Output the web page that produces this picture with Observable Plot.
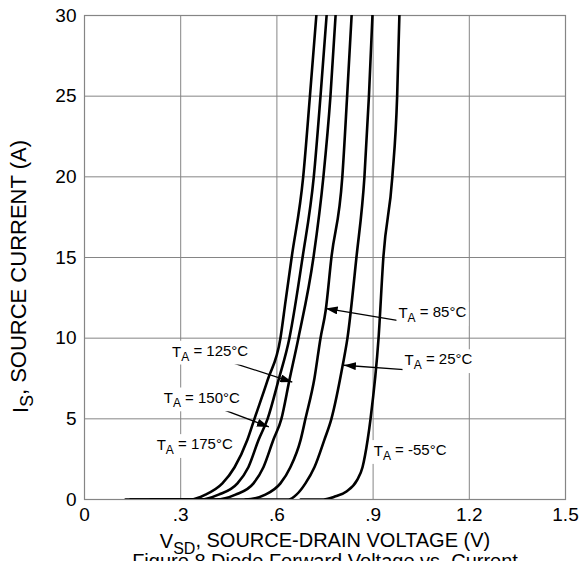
<!DOCTYPE html>
<html><head><meta charset="utf-8">
<script src="https://cdn.jsdelivr.net/npm/d3@7"></script>
<script src="https://cdn.jsdelivr.net/npm/@observablehq/plot@0.6"></script>
<style>
html,body{margin:0;padding:0;background:#fff;}
#chart svg{display:block;}
</style></head><body><div id="chart"></div>
<script>
// ---- tick definitions ----
const xTicks = [0, 0.3, 0.6, 0.9, 1.2, 1.5];
const xTickLabels = ["0", ".3", ".6", ".9", "1.2", "1.5"];
const yTicks = [0, 5, 10, 15, 20, 25, 30];
const yTickLabels = ["0", "5", "10", "15", "20", "25", "30"];

// ---- series (V_SD in volts, I_S in amps) ----
const temps = ["175°C", "150°C", "125°C", "85°C", "25°C", "-55°C"];
const vsd175 = [0.128, 0.331, 0.377, 0.430, 0.468, 0.508, 0.530, 0.571, 0.611, 0.627, 0.646, 0.682, 0.703, 0.723];
const is175  = [0, 0, 0.3, 1, 2, 3.7, 5, 7.4, 10, 12.3, 15, 20, 25, 30];
const vsd150 = [0.143, 0.362, 0.418, 0.477, 0.511, 0.543, 0.571, 0.605, 0.639, 0.680, 0.715, 0.736, 0.755];
const is150  = [0, 0, 0.3, 1, 2, 3.7, 5, 7.4, 10, 15, 20, 25, 30];
const vsd125 = [0.206, 0.409, 0.471, 0.527, 0.558, 0.589, 0.614, 0.639, 0.667, 0.714, 0.745, 0.767, 0.783];
const is125  = [0, 0, 0.3, 1, 2, 3.7, 5, 7.4, 10, 15, 20, 25, 30];
const vsd85  = [0.362, 0.502, 0.564, 0.611, 0.642, 0.674, 0.689, 0.717, 0.736, 0.752, 0.770, 0.804, 0.819, 0.833];
const is85   = [0, 0, 0.3, 1, 2, 3.7, 5, 7.5, 10, 11.7, 15, 20, 25, 30];
const vsd25  = [0.502, 0.636, 0.661, 0.689, 0.717, 0.748, 0.770, 0.805, 0.820, 0.848, 0.873, 0.887, 0.898];
const is25   = [0, 0, 0.3, 1, 2, 3.7, 5, 8.3, 10, 15, 20, 25, 30];
const vsdM55 = [0.674, 0.745, 0.783, 0.817, 0.850, 0.867, 0.883, 0.892, 0.917, 0.932, 0.960, 0.975, 0.982];
const isM55  = [0, 0, 0.2, 0.5, 1.2, 2, 3.7, 5, 10, 15, 20, 25, 30];

// ---- annotations ----
const labelText = ["T_A = 85°C", "T_A = 25°C", "T_A = -55°C", "T_A = 125°C", "T_A = 150°C", "T_A = 175°C"];
const labelV = [0.979, 0.998, 0.902, 0.273, 0.247, 0.225];
const labelI = [11.54, 8.62, 2.99, 9.15, 6.25, 3.36];
const arrowTailV = [0.975, 0.996, 0.455, 0.424];
const arrowTailI = [11.1, 8.05, 8.52, 5.63];
const arrowTipV  = [0.752, 0.809, 0.648, 0.575];
const arrowTipI  = [11.84, 8.32, 7.28, 4.5];

const xLabel = "V_SD, SOURCE-DRAIN VOLTAGE (V)";
const yLabel = "I_S, SOURCE CURRENT (A)";
const caption = "Figure 8 Diode Forward Voltage vs. Current";

// ---- build tables ----
const seriesV = [vsd175, vsd150, vsd125, vsd85, vsd25, vsdM55];
const seriesI = [is175, is150, is125, is85, is25, isM55];
const rows = temps.flatMap((t, s) => seriesV[s].map((v, k) => ({temp: t, v, i: seriesI[s][k]})));
const arrows = arrowTailV.map((v, k) => ({x1: v, y1: arrowTailI[k], x2: arrowTipV[k], y2: arrowTipI[k]}));
const labels = labelText.map((t, k) => ({t, v: labelV[k], i: labelI[k]}));

const font = '"Liberation Sans", Arial, Helvetica, sans-serif';
const gridColor = "#858585";

const chart = Plot.plot({
  width: 580, height: 561,
  marginLeft: 84, marginRight: 15, marginTop: 15, marginBottom: 62,
  style: {fontFamily: font, background: "white", color: "black"},
  x: {domain: [0, 1.5]},
  y: {domain: [0, 30]},
  marks: [
    Plot.gridX(xTicks, {stroke: gridColor, strokeOpacity: 1, strokeWidth: 1}),
    Plot.gridY(yTicks, {stroke: gridColor, strokeOpacity: 1, strokeWidth: 1}),
    Plot.frame({stroke: gridColor, strokeWidth: 1.2}),
    Plot.axisX(xTicks, {tickSize: 0, tickPadding: 8, fontSize: 19, label: null,
      tickFormat: d => xTickLabels[xTicks.indexOf(d)]}),
    Plot.axisY(yTicks, {tickSize: 0, tickPadding: 8, fontSize: 19, label: null,
      tickFormat: d => yTickLabels[yTicks.indexOf(d)]}),
    Plot.line(rows, {x: "v", y: "i", z: "temp", stroke: "black", strokeWidth: 2.6, curve: "monotone-x", clip: true}),
    Plot.link(arrows, {x1: "x1", y1: "y1", x2: "x2", y2: "y2", stroke: "black", strokeWidth: 1.3, className: "ann-arrow"}),
    Plot.text(labels, {x: "v", y: "i", text: "t", textAnchor: "start", fontSize: 15, fill: "black", className: "ann-label"}),
    Plot.text([xLabel], {frameAnchor: "bottom", textAnchor: "middle", lineAnchor: "middle", dy: 42.5, fontSize: 20, fill: "black"}),
    Plot.text([yLabel], {frameAnchor: "left", textAnchor: "middle", lineAnchor: "middle", dx: -64, dy: 19, rotate: -90, fontSize: 22, fill: "black"}),
    Plot.text([caption], {frameAnchor: "bottom", textAnchor: "middle", lineAnchor: "middle", dy: 62, fontSize: 20, fill: "black"})
  ]
});
document.getElementById("chart").append(chart);

const svg = d3.select(chart);
// subscripts
svg.selectAll("text").each(function() {
  const s = this.textContent;
  const m = s.match(/^(.*?)_([A-Z]+)(.*)$/);
  if (!m) return;
  const el = d3.select(this);
  el.text(null);
  el.append("tspan").text(m[1]);
  el.append("tspan").attr("dy", "0.32em").attr("font-size", "0.8em").text(m[2]);
  el.append("tspan").attr("dy", "-0.32em").text(m[3]);
});
// white boxes behind annotation labels
svg.selectAll(".ann-label text").each(function() {
  const b = this.getBBox();
  const r = document.createElementNS("http://www.w3.org/2000/svg", "rect");
  r.setAttribute("x", b.x - 2); r.setAttribute("y", b.y - 1);
  r.setAttribute("width", b.width + 4); r.setAttribute("height", b.height + 2);
  r.setAttribute("fill", "white");
  const tr = this.getAttribute("transform");
  if (tr) r.setAttribute("transform", tr);
  this.parentNode.insertBefore(r, this);
});
// filled triangle arrowheads
const defs = svg.insert("defs", ":first-child");
defs.append("marker").attr("id", "tri").attr("viewBox", "0 0 12 8")
  .attr("refX", 12).attr("refY", 4).attr("markerWidth", 12).attr("markerHeight", 8)
  .attr("markerUnits", "userSpaceOnUse").attr("orient", "auto")
  .append("path").attr("d", "M0,0L12,4L0,8Z").attr("fill", "black");
svg.selectAll(".ann-arrow path").attr("marker-end", "url(#tri)");
</script>
</body></html>
